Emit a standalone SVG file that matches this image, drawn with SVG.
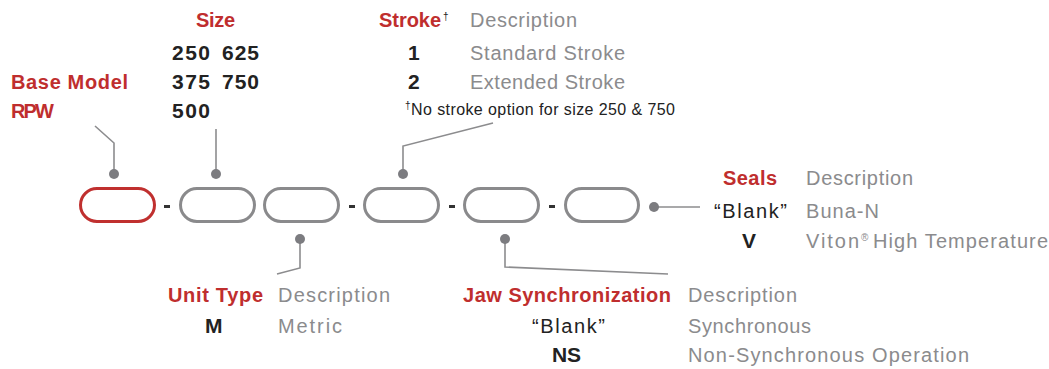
<svg xmlns="http://www.w3.org/2000/svg" width="1049" height="369" viewBox="0 0 1049 369">
<style>
text{font-family:"Liberation Sans",Arial,sans-serif;}
.h{font-size:20px;font-weight:bold;fill:#bf2e2e;}
.d{font-size:20px;fill:#8b8b8d;}
.c{font-size:21px;font-weight:bold;fill:#222;}
.k{font-size:20px;fill:#222;}
.f{font-size:16px;fill:#222;}
.sup{font-size:10px;fill:#222;}
.supg{font-size:10px;fill:#8b8b8d;}
.pill{fill:#fff;stroke:#8a8a8c;stroke-width:3;}
.pill.red{stroke:#c0302f;}
.dash{fill:#333;}
.ln{fill:none;stroke:#8c8c8e;stroke-width:1.6;}
.dot{fill:#7c7c80;}
</style>
<rect width="1049" height="369" fill="#fff"/>
<g id="connectors">
<polyline class="ln" points="95,126 114,143 114,174"/>
<polyline class="ln" points="216,129 216,174"/>
<polyline class="ln" points="493,123 403,146 403,174"/>
<polyline class="ln" points="654,207 700,207"/>
<polyline class="ln" points="300,239 300,268 277,274"/>
<polyline class="ln" points="505,239 505,267 668,274"/>
<circle class="dot" cx="114" cy="174" r="5"/>
<circle class="dot" cx="216" cy="174" r="5"/>
<circle class="dot" cx="403" cy="174" r="5"/>
<circle class="dot" cx="654" cy="207" r="5"/>
<circle class="dot" cx="300" cy="239" r="5"/>
<circle class="dot" cx="505" cy="239" r="5"/>
</g>
<g id="pill-base"><rect class="pill red" x="80.5" y="188.5" width="74" height="33" rx="16.5"/></g>
<rect class="dash" x="164" y="205" width="6" height="3"/>
<g id="pill-size"><rect class="pill" x="180.5" y="188.5" width="74" height="33" rx="16.5"/></g>
<g id="pill-unit"><rect class="pill" x="264.5" y="188.5" width="74" height="33" rx="16.5"/></g>
<rect class="dash" x="349" y="205" width="6" height="3"/>
<g id="pill-stroke"><rect class="pill" x="364.5" y="188.5" width="74" height="33" rx="16.5"/></g>
<rect class="dash" x="449" y="205" width="6" height="3"/>
<g id="pill-jaw"><rect class="pill" x="464.5" y="188.5" width="74" height="33" rx="16.5"/></g>
<rect class="dash" x="549" y="205" width="6" height="3"/>
<g id="pill-seals"><rect class="pill" x="565.5" y="188.5" width="73" height="33" rx="16.5"/></g>

<g id="base-model">
<text class="h" x="11" y="89" textLength="117">Base Model</text>
<text class="h" x="11" y="118" textLength="43">RPW</text>
</g>
<g id="size">
<text class="h" x="196" y="27" textLength="39">Size</text>
<text class="c" x="172" y="60" textLength="38">250</text>
<text class="c" x="222" y="60" textLength="37">625</text>
<text class="c" x="172" y="89" textLength="38">375</text>
<text class="c" x="222" y="89" textLength="37">750</text>
<text class="c" x="172" y="118" textLength="38">500</text>
</g>
<g id="stroke">
<text class="h" x="379" y="27" textLength="62">Stroke</text>
<text class="sup" x="443" y="20">†</text>
<text class="d" x="470" y="27" textLength="107">Description</text>
<text class="c" x="408" y="60">1</text>
<text class="d" x="470" y="60" textLength="155">Standard Stroke</text>
<text class="c" x="408" y="89">2</text>
<text class="d" x="470" y="89" textLength="155">Extended Stroke</text>
<text class="sup" x="405" y="109">†</text>
<text class="f" x="411" y="115" textLength="264">No stroke option for size 250 &amp; 750</text>
</g>
<g id="seals">
<text class="h" x="723" y="185" textLength="54">Seals</text>
<text class="d" x="806" y="185" textLength="107">Description</text>
<text class="k" x="714" y="218" textLength="73">“Blank”</text>
<text class="d" x="806" y="218" textLength="73">Buna-N</text>
<text class="c" x="742" y="248">V</text>
<text class="d" x="806" y="248" textLength="53">Viton</text>
<text class="supg" x="861" y="241">®</text>
<text class="d" x="873" y="248" textLength="175">High Temperature</text>
</g>
<g id="unit-type">
<text class="h" x="168" y="302" textLength="95">Unit Type</text>
<text class="d" x="278" y="302" textLength="112">Description</text>
<text class="c" x="205" y="333">M</text>
<text class="d" x="278" y="333" textLength="64">Metric</text>
</g>
<g id="jaw">
<text class="h" x="463" y="302" textLength="208">Jaw Synchronization</text>
<text class="d" x="688" y="302" textLength="109">Description</text>
<text class="k" x="532" y="333" textLength="73">“Blank”</text>
<text class="d" x="688" y="333" textLength="123">Synchronous</text>
<text class="c" x="552" y="362" textLength="29">NS</text>
<text class="d" x="688" y="362" textLength="281">Non-Synchronous Operation</text>
</g>
</svg>
